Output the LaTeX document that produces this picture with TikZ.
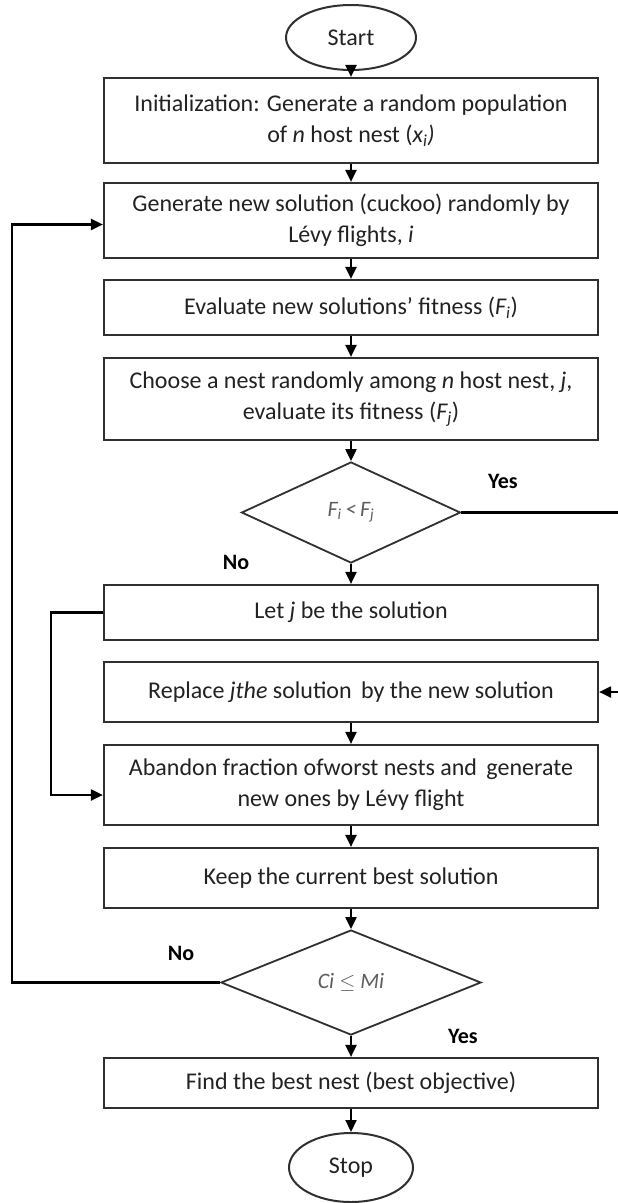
\documentclass[tikz,border=0pt]{standalone}
\usepackage{fontspec}
\setmainfont{Carlito}
\usetikzlibrary{shapes.geometric,arrows.meta}
\definecolor{boxc}{HTML}{303030}
\definecolor{txt}{HTML}{222222}
\definecolor{dtxt}{HTML}{5E5E5E}
\begin{document}
\begin{tikzpicture}[x=1pt,y=-1pt,
  box/.style={draw=boxc, line width=2.2pt, minimum width=494pt, inner sep=0pt,
    align=center, text=txt, font=\fontsize{24}{31}\selectfont},
  term/.style={draw=boxc, line width=2pt, ellipse, inner sep=0pt, text=txt,
    font=\fontsize{24}{29}\selectfont},
  dec/.style={draw=boxc, line width=1.8pt, diamond, inner sep=0pt, text=dtxt,
    font=\fontsize{22}{26}\selectfont\itshape},
  arr/.style={draw=black, line width=2.1pt, -{Triangle[length=12pt,width=11pt]}},
  lab/.style={text=black, font=\fontsize{22}{26}\selectfont\bfseries, inner sep=0pt}]
\fill[white] (0,0) rectangle (618,1203);
\useasboundingbox (0,0) rectangle (618,1203);

\node[term, minimum width=130pt, minimum height=65pt] (start) at (351,37.5) {Start};
\node[box, minimum height=85pt] (init) at (351,120.5)
  {Initialization: Generate a random population\\of \textit{n} host nest (\textit{x\textsubscript{i})}};
\node[box, minimum height=75pt] (gen) at (351,220.5)
  {Generate new solution (cuckoo) randomly by\\Lévy flights, \textit{i}};
\node[box, minimum height=55pt] (eval) at (351,307.5)
  {Evaluate new solutions’ fitness (\textit{F\textsubscript{i}})};
\node[box, minimum height=82pt] (choose) at (351,399)
  {Choose a nest randomly among \textit{n} host nest, \textit{j},\\evaluate its fitness (\textit{F\textsubscript{j}})};
\node[dec, minimum width=219pt, minimum height=101pt] (d1) at (351,512.5)
  {F\textsubscript{i}\,<\,F\textsubscript{j}};
\node[box, minimum height=55pt] (let) at (351,612.5) {Let \textit{j} be the solution};
\node[box, minimum height=60pt] (replace) at (351,692)
  {Replace \textit{jthe} solution\, by the new solution};
\node[box, minimum height=80pt] (abandon) at (351,785)
  {Abandon fraction ofworst nests and\, generate\\new ones by Lévy flight};
\node[box, minimum height=60pt] (keep) at (351,878) {Keep the current best solution};
\node[dec, minimum width=260pt, minimum height=105pt] (d2) at (351,982.5)
  {Ci $\leq$ Mi};
\node[box, minimum height=50pt] (find) at (351,1083) {Find the best nest (best objective)};
\node[term, minimum width=124pt, minimum height=69pt] (stop) at (351,1167.5) {Stop};

\node[lab] (yes1) at (503,481) {Yes};
\node[lab] (no1) at (236,562) {No};
\node[lab] (no2) at (181,953) {No};
\node[lab] (yes2) at (463,1036) {Yes};

\coordinate (yesx) at (632,0);
\coordinate (lx) at (12,0);
\coordinate (jx) at (51,0);

\draw[arr] (start) -- (init);
\draw[arr] (init) -- (gen);
\draw[arr] (gen) -- (eval);
\draw[arr] (eval) -- (choose);
\draw[arr] (choose) -- (d1);
\draw[arr] (d1) -- (let);
\draw[arr] (replace) -- (abandon);
\draw[arr] (abandon) -- (keep);
\draw[arr] (keep) -- (d2);
\draw[arr] (d2) -- (find);
\draw[arr] (find) -- (stop);

\draw[arr] (d1.east) -- (d1.east -| yesx) |- (replace.east);
\draw[arr] (d2.west) -- (d2.west -| lx) |- ([yshift=-4pt]gen.west);
\draw[arr] (let.west) -- (let.west -| jx) |- ([yshift=-10pt]abandon.west);
\end{tikzpicture}
\end{document}
